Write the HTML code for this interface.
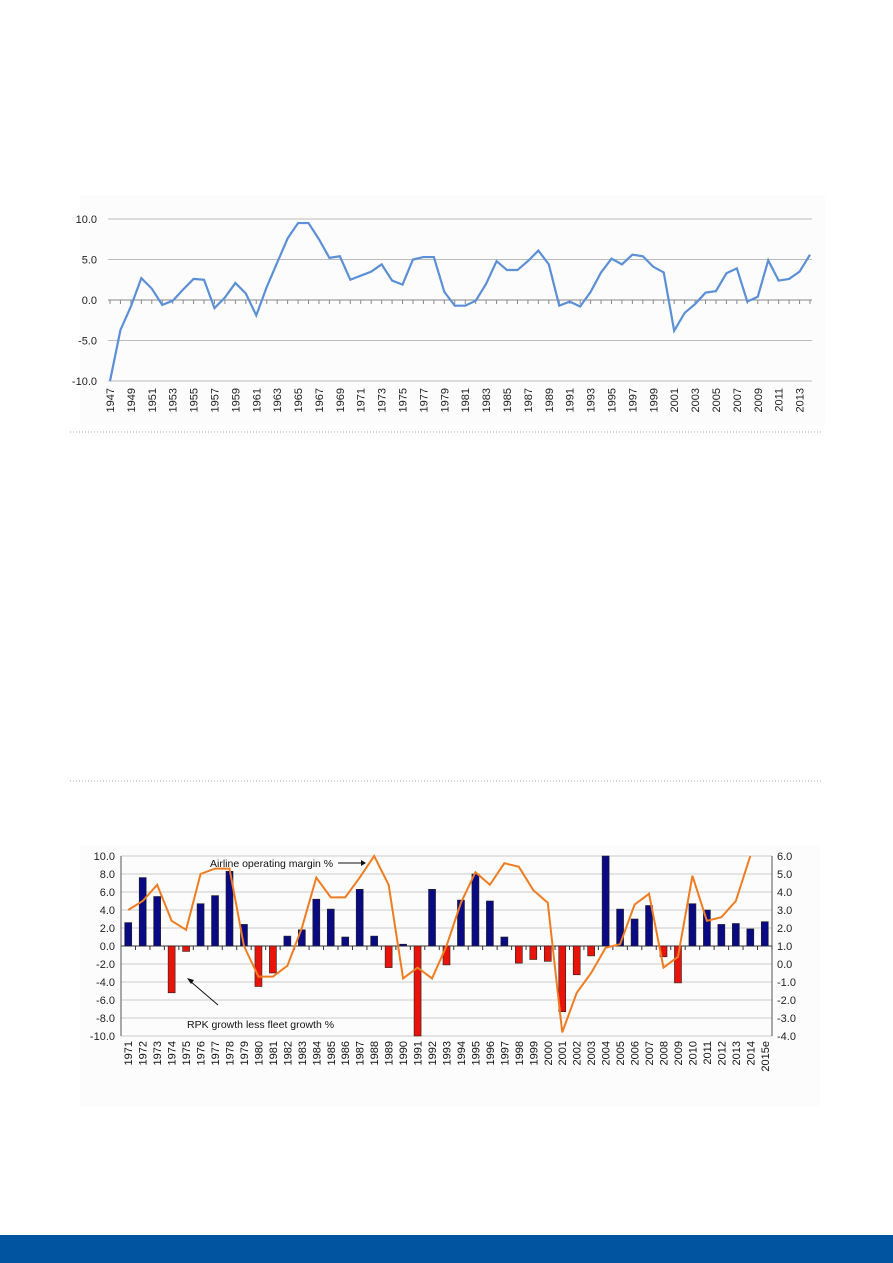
<!DOCTYPE html>
<html><head><meta charset="utf-8"><style>
body{margin:0;background:#fff;}
svg{display:block;font-family:"Liberation Sans",sans-serif;}
</style></head><body>
<svg id="page" width="893" height="1263" viewBox="0 0 893 1263">
<rect x="80" y="195" width="745" height="230" fill="#fcfcfc"/>
<g id="top"></g>
<line x1="70" y1="432" x2="822" y2="432" stroke="#aaa" stroke-dasharray="1,2"/>
<line x1="70" y1="781" x2="822" y2="781" stroke="#aaa" stroke-dasharray="1,2"/>
<rect x="80" y="845" width="740" height="262" fill="#fcfcfc"/>
<g id="bot"></g>
<rect x="0" y="1235" width="893" height="28" fill="#0054a0"/>
</svg>
<script>
const topYears=[];for(let y=1947;y<=2014;y++)topYears.push(y);
const topValues=[-10,-3.7,-0.8,2.7,1.4,-0.6,-0.1,1.3,2.6,2.5,-1.0,0.3,2.1,0.8,-1.9,1.6,4.6,7.6,9.5,9.5,7.5,5.2,5.4,2.5,3.0,3.5,4.4,2.4,1.9,5.0,5.3,5.3,1.0,-0.7,-0.7,-0.1,2.0,4.8,3.7,3.7,4.8,6.1,4.4,-0.7,-0.2,-0.8,1.0,3.4,5.1,4.4,5.6,5.4,4.1,3.4,-3.8,-1.6,-0.5,0.9,1.1,3.3,3.9,-0.2,0.4,4.9,2.4,2.6,3.5,5.6];
const topTicks=[10,5,0,-5,-10];
const botCats=["1971","1972","1973","1974","1975","1976","1977","1978","1979","1980","1981","1982","1983","1984","1985","1986","1987","1988","1989","1990","1991","1992","1993","1994","1995","1996","1997","1998","1999","2000","2001","2002","2003","2004","2005","2006","2007","2008","2009","2010","2011","2012","2013","2014","2015e"];
const barValues=[2.6,7.6,5.5,-5.2,-0.6,4.7,5.6,8.3,2.4,-4.5,-3.0,1.1,1.8,5.2,4.1,1.0,6.3,1.1,-2.4,0.2,-10,6.3,-2.1,5.1,8.0,5.0,1.0,-1.9,-1.5,-1.7,-7.3,-3.2,-1.1,10,4.1,3.0,4.5,-1.2,-4.1,4.7,4.0,2.4,2.5,1.9,2.7];
const marginValues=[3.0,3.5,4.4,2.4,1.9,5.0,5.3,5.3,1.0,-0.7,-0.7,-0.1,2.0,4.8,3.7,3.7,4.8,6.0,4.4,-0.8,-0.2,-0.8,1.0,3.4,5.1,4.4,5.6,5.4,4.1,3.4,-3.8,-1.6,-0.5,0.9,1.1,3.3,3.9,-0.2,0.4,4.9,2.4,2.6,3.5,6.0];
const leftTicks=[10,8,6,4,2,0,-2,-4,-6,-8,-10];
const rightTicks=[6,5,4,3,2,1,0,-1,-2,-3,-4];
const NS="http://www.w3.org/2000/svg";
function mk(p,t,a){const e=document.createElementNS(NS,t);for(const k in a)e.setAttribute(k,a[k]);p.appendChild(e);return e;}
// top chart
const T=document.getElementById('top');
const tx=i=>110+i*(700/(topYears.length-1));
const ty=v=>300-v*8.1;
topTicks.forEach(v=>{
 const g=mk(T,'line',{x1:108,x2:812,y1:ty(v),y2:ty(v),stroke:v===0?'#888':'#bbb','stroke-width':1});
 
 
 const t=mk(T,'text',{x:97,y:ty(v)+4,'text-anchor':'end','font-size':11,fill:'#222'});
 t.textContent=v.toFixed(1);
 
 
});
topYears.forEach((y,i)=>{
 const tk=mk(T,'line',{x1:tx(i),x2:tx(i),y1:300,y2:304,stroke:'#888'});
 
 
 if(i%2===0){
  const t=mk(T,'text',{transform:`translate(${tx(i)+4},388) rotate(-90)`,'text-anchor':'end','font-size':11,fill:'#222'});
  t.textContent=y;
  
  
 }
});
const tl=mk(T,'polyline',{points:topValues.map((v,i)=>tx(i)+','+ty(v)).join(' '),fill:'none',stroke:'#5b8fd6','stroke-width':2.2});


// bottom chart
const B=document.getElementById('bot');
const bw=651/botCats.length;
const bx=i=>121+bw*(i+0.5);
const ly=v=>946-v*9;
const ry=v=>946-(v-1)*18;
leftTicks.forEach(v=>{
 const g=mk(B,'line',{x1:121,x2:772,y1:ly(v),y2:ly(v),stroke:v===0?'#333':'#ccc'});
 
 
 const t=mk(B,'text',{x:115,y:ly(v)+4,'text-anchor':'end','font-size':11,fill:'#222'});
 t.textContent=v.toFixed(1);
 
 
});
rightTicks.forEach(v=>{
 const t=mk(B,'text',{x:777,y:ry(v)+4,'font-size':11,fill:'#222'});
 t.textContent=v.toFixed(1);
 
 
});
mk(B,'line',{x1:121,x2:121,y1:856,y2:1036,stroke:'#555'});
mk(B,'line',{x1:772,x2:772,y1:856,y2:1036,stroke:'#555'});
barValues.forEach((v,i)=>{
 const y0=ly(Math.max(v,0)),h=Math.abs(v)*9;
 const r=mk(B,'rect',{x:bx(i)-3.5,y:y0,width:7,height:Math.max(h,1),fill:v>=0?'#0a0a82':'#e8140c',stroke:'#222','stroke-width':0.6});
 
 
});
botCats.forEach((c,i)=>{
 const tk=mk(B,'line',{x1:bx(i)+bw/2,x2:bx(i)+bw/2,y1:946,y2:950,stroke:'#333'});
 
 
 const t=mk(B,'text',{transform:`translate(${bx(i)+4},1041) rotate(-90)`,'text-anchor':'end','font-size':11,fill:'#111'});
 t.textContent=c;
 
 
});
const ml=mk(B,'polyline',{points:marginValues.map((v,i)=>bx(i)+','+ry(Math.min(v,6))).join(' '),fill:'none',stroke:'#f07c22','stroke-width':2});


const a1=mk(B,'text',{x:210,y:867,'font-size':10.5,fill:'#111'});a1.textContent='Airline operating margin  %';


mk(B,'line',{x1:338,x2:364,y1:863,y2:863,stroke:'#111'});
mk(B,'path',{d:'M366,863 l-5,-3 v6z',fill:'#111'});
const a2=mk(B,'text',{x:187,y:1028,'font-size':10.5,fill:'#111'});a2.textContent='RPK growth less fleet growth %';


mk(B,'line',{x1:218,x2:190,y1:1005,y2:981,stroke:'#111'});
mk(B,'path',{d:'M187,978 l7,2 l-3,4z',fill:'#111'});
</script>
</body></html>
